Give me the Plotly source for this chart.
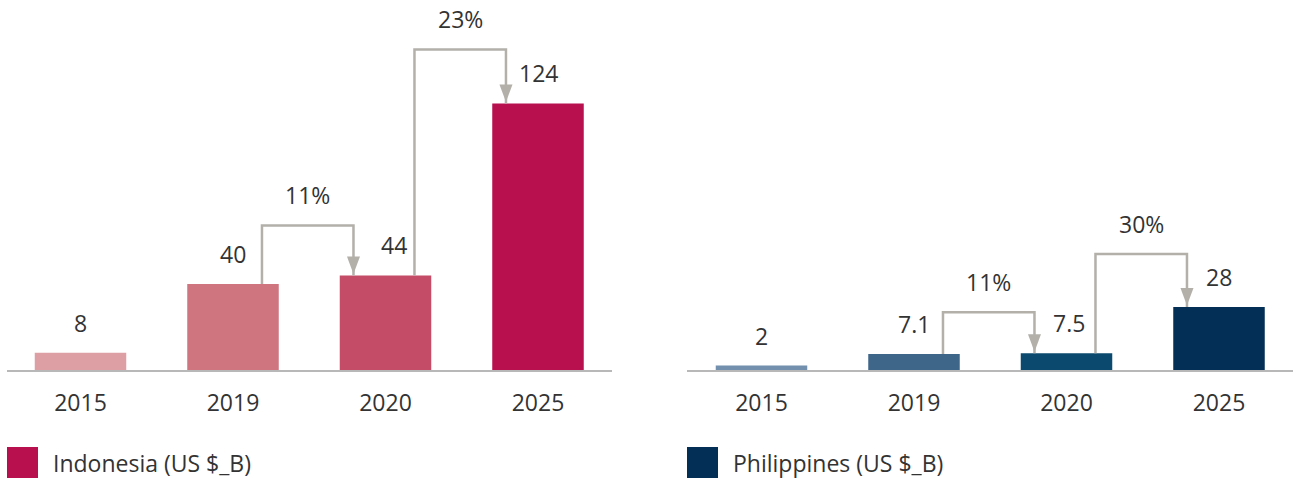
import plotly.graph_objects as go

years = ["2015", "2019", "2020", "2025"]
indonesia = [8, 40, 44, 124]
philippines = [2, 7.1, 7.5, 28]
indonesia_growth = ["11%", "23%"]
philippines_growth = ["11%", "30%"]

W, H = 1293, 479
BASE_PX = 370          # pixel row of the bar baseline
BAND_PX = 152.5        # width of one category band in pixels
FONT = dict(family="Open Sans", size=23, color="#333333")
GREY = "#b3b0aa"

panels = [
    dict(
        name="Indonesia (US $_B)",
        values=indonesia,
        growth=indonesia_growth,
        colors=["#dd9ea4", "#cf7580", "#c44c66", "#b80f4f"],
        x_px=(7, 612),
        first_centre=80.5,
        px_per_unit=2.15,
        rises=[50, 54],
        label_shift=[0, 0, 8, 0],
    ),
    dict(
        name="Philippines (US $_B)",
        values=philippines,
        growth=philippines_growth,
        colors=["#7390ae", "#3e6689", "#0b4a6e", "#032e55"],
        x_px=(687, 1293),
        first_centre=761.5,
        px_per_unit=2.25,
        rises=[41, 53],
        label_shift=[0, 0, 2, 0],
    ),
]

fig = go.Figure()
shapes = []
annotations = []

for k, p in enumerate(panels):
    xa = "x" if k == 0 else "x2"
    ya = "y" if k == 0 else "y2"
    axis_suffix = "" if k == 0 else "2"

    fig.add_trace(go.Bar(
        x=years,
        y=p["values"],
        marker=dict(color=p["colors"], line=dict(width=0)),
        width=0.6,
        hoverinfo="skip",
        showlegend=False,
        xaxis=xa,
        yaxis=ya,
    ))

    # axis ranges so that the baseline runs exactly under the bars
    left, right = p["x_px"]
    x_lo = (left - p["first_centre"]) / BAND_PX
    x_hi = (right - p["first_centre"]) / BAND_PX
    fig.update_layout({
        "xaxis" + axis_suffix: dict(
            domain=[left / W, right / W],
            type="category",
            range=[x_lo, x_hi],
            showgrid=False,
            zeroline=False,
            showline=True,
            linecolor="#b8b8b8",
            linewidth=2,
            ticks="outside",
            ticklen=11,
            tickcolor="rgba(0,0,0,0)",
            tickfont=FONT,
            fixedrange=True,
            anchor=ya,
        ),
        "yaxis" + axis_suffix: dict(
            range=[0, BASE_PX / p["px_per_unit"]],
            visible=False,
            fixedrange=True,
            anchor=xa,
        ),
    })

    # value labels above bars
    for i, v in enumerate(p["values"]):
        annotations.append(dict(
            x=i, y=v, xref=xa, yref=ya,
            text=f"{v:g}", showarrow=False,
            yshift=30, xshift=p["label_shift"][i],
            font=FONT,
        ))

    # growth connectors between consecutive bars
    for j, g in enumerate(p["growth"]):
        a, b = j + 1, j + 2
        va, vb = p["values"][a], p["values"][b]
        x0 = a + 0.19
        x1 = b - 0.21
        level = max(va, vb) + p["rises"][j] / p["px_per_unit"]
        shapes.append(dict(
            type="path", xref=xa, yref=ya,
            path=f"M {x0},{va} L {x0},{level} L {x1},{level} L {x1},{vb}",
            line=dict(color=GREY, width=2.5),
        ))
        shapes.append(dict(
            type="path", xref=xa, yref=ya,
            xsizemode="pixel", ysizemode="pixel",
            xanchor=x1, yanchor=vb,
            path="M -6.5,19 L 6.5,19 L 0,1.5 Z",
            fillcolor=GREY, line=dict(width=0),
        ))
        annotations.append(dict(
            x=(x0 + x1) / 2, y=level, xref=xa, yref=ya,
            text=g, showarrow=False, yshift=30, font=FONT,
        ))

    # legend swatch and label
    sx = left / W
    shapes.append(dict(
        type="rect", xref="paper", yref="paper",
        x0=sx, x1=sx + 31 / W,
        y0=(BASE_PX - 478) / BASE_PX, y1=(BASE_PX - 447) / BASE_PX,
        fillcolor=p["colors"][-1], line=dict(width=0),
    ))
    annotations.append(dict(
        x=sx + 44 / W, y=(BASE_PX - 463) / BASE_PX,
        xref="paper", yref="paper",
        xanchor="left", yanchor="middle",
        text=p["name"], showarrow=False, font=FONT,
    ))

fig.update_layout(
    width=W,
    height=H,
    margin=dict(l=0, r=0, t=0, b=H - BASE_PX),
    plot_bgcolor="white",
    paper_bgcolor="white",
    font=FONT,
    bargap=0.4,
    shapes=shapes,
    annotations=annotations,
    showlegend=False,
)

fig.write_html(
    "out.html",
    config={"displayModeBar": False},
    post_script="document.body.style.margin='0';",
)
